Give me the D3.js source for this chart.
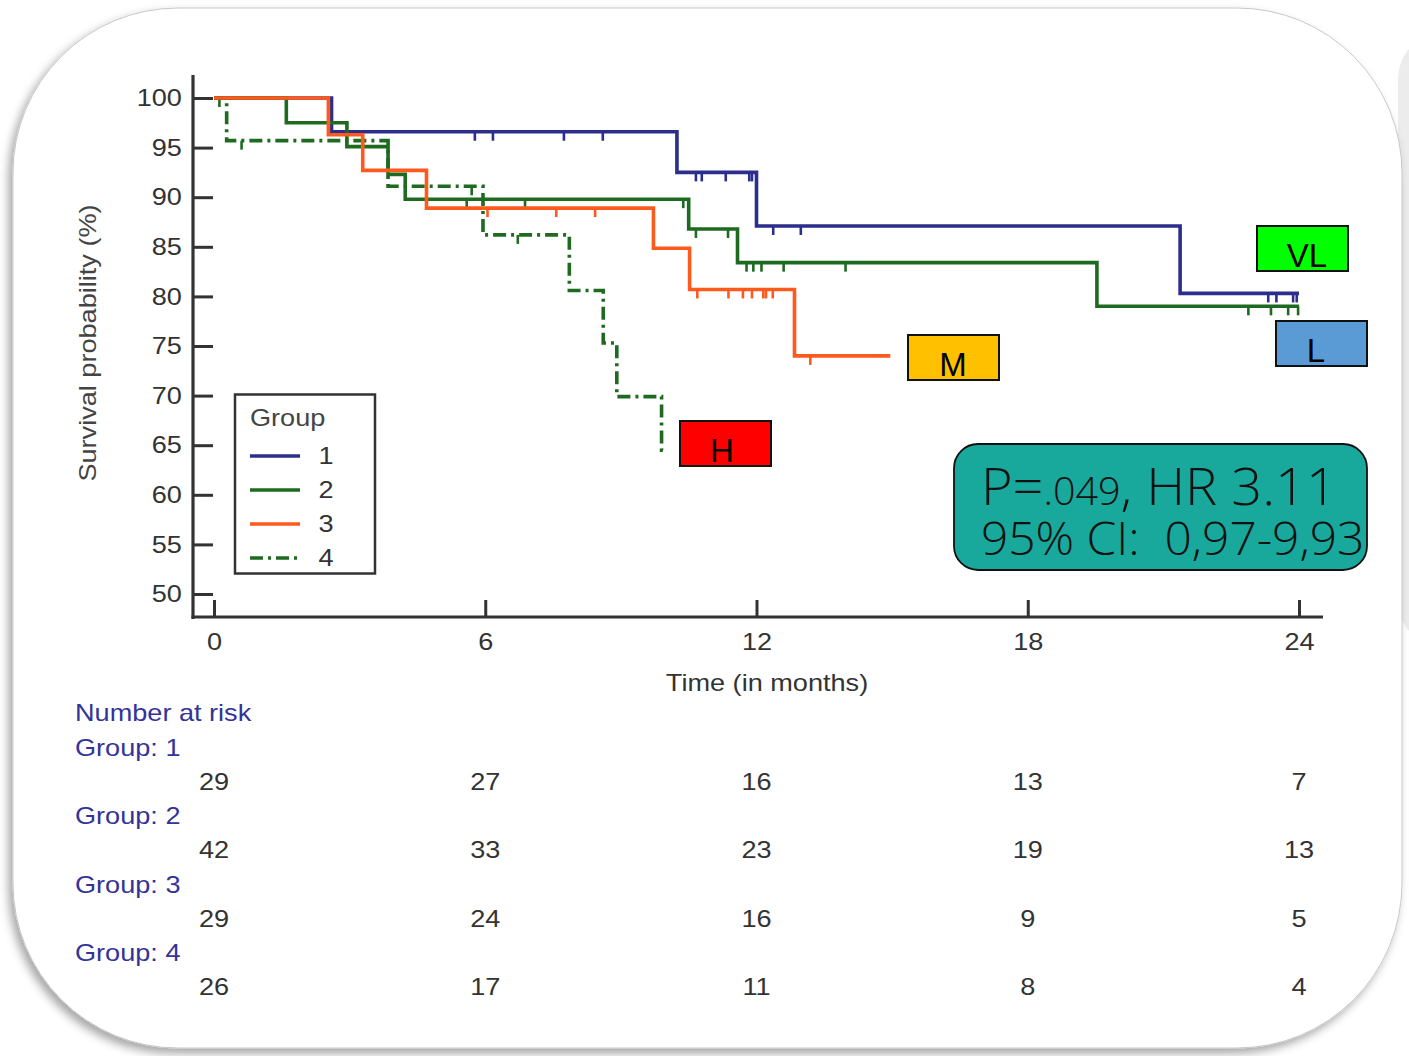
<!DOCTYPE html>
<html>
<head>
<meta charset="utf-8">
<script src="https://cdn.jsdelivr.net/npm/d3@7"></script>
<style>
  html, body { margin: 0; padding: 0; background: #ffffff; }
  svg { display: block; }
</style>
</head>
<body>
<svg id="chart" width="1409" height="1056"></svg>
<script>
// ---------------- DATA ----------------
const groups = ["1", "2", "3", "4"];
const riskLabels = ["VL", "L", "M", "H"];

// Step curves: event times (months) and survival (%) after each step
const g1Times = [0, 2.6, 10.24, 12.0, 21.37];
const g1Surv  = [100, 96.6, 92.5, 87.1, 80.3];
const g1End   = 24.0;
const g1Censor = [5.77, 6.17, 7.74, 8.6, 10.66, 10.79, 11.32, 11.84, 11.9, 12.37, 12.98, 23.32, 23.5, 23.87, 23.95];

const g2Times = [0, 1.6, 2.94, 3.85, 4.23, 10.5, 11.58, 19.53];
const g2Surv  = [100, 97.5, 95.1, 92.3, 89.8, 86.8, 83.4, 79.0];
const g2End   = 24.0;
const g2Censor = [5.59, 6.88, 10.38, 10.66, 11.37, 11.78, 11.93, 12.11, 12.6, 13.97, 22.88, 23.38, 23.76, 23.98];

const g3Times = [0, 2.53, 3.29, 4.7, 9.72, 10.52, 12.84];
const g3Surv  = [100, 96.3, 92.7, 88.9, 84.85, 80.7, 74.0];
const g3End   = 14.96;
const g3Censor = [6.05, 7.57, 8.43, 10.69, 11.38, 11.7, 11.9, 12.15, 12.21, 12.36, 13.19];

const g4Times = [0, 0.28, 3.85, 5.95, 7.86, 8.61, 8.91, 9.9];
const g4Surv  = [100, 95.7, 91.1, 86.2, 80.6, 75.3, 69.9, 64.5];
const g4End   = 10.0;
const g4Censor = [0.12, 0.61, 5.7, 6.72];

// Axis ticks
const yTicks = [50, 55, 60, 65, 70, 75, 80, 85, 90, 95, 100];
const xTicks = [0, 6, 12, 18, 24];

// Number at risk
const risk1 = [29, 27, 16, 13, 7];
const risk2 = [42, 33, 23, 19, 13];
const risk3 = [29, 24, 16, 9, 5];
const risk4 = [26, 17, 11, 8, 4];

// Statistic annotation
const statLine1a = "P=";
const statLine1b = ".049";
const statLine1c = ", HR 3.11";
const statLine2 = "95% CI:\u00a0 0,97-9,93";

// ---------------- DRAW ----------------
const svg = d3.select("#chart");

const defs = svg.append("defs");
const sh = defs.append("filter").attr("id", "shadow").attr("x", "-10%").attr("y", "-10%").attr("width", "120%").attr("height", "120%");
sh.append("feDropShadow").attr("dx", -4).attr("dy", 5).attr("stdDeviation", 5).attr("flood-color", "#000").attr("flood-opacity", 0.35);

// background fragment on the right
svg.append("rect").attr("x", 1398).attr("y", 40).attr("width", 60).attr("height", 600).attr("rx", 40)
  .attr("fill", "#ececec");

// card with rounded corners
svg.append("rect")
  .attr("x", 13).attr("y", 8).attr("width", 1389).attr("height", 1040)
  .attr("rx", 165).attr("ry", 165)
  .attr("fill", "#ffffff").attr("stroke", "#c8c8c8").attr("stroke-width", 1)
  .attr("filter", "url(#shadow)");

const x = d3.scaleLinear().domain([0, 24]).range([214, 1299]);
const y = d3.scaleLinear().domain([50, 100]).range([594, 98]);

const colors = d3.scaleOrdinal().domain(groups).range(["#2b2e8c", "#1e6a20", "#ff5a1e", "#1e6a20"]);
const font = "'Liberation Sans', Arial, sans-serif";
const axisColor = "#333333";
const SX = 1.13; // horizontal stretch of the reference's text

function stretched(parent, px, py, str, size, fill, anchor) {
  return parent.append("text")
    .attr("transform", `translate(${px},${py}) scale(${SX},1)`)
    .attr("text-anchor", anchor || "start")
    .attr("font-family", font).attr("font-size", size).attr("fill", fill)
    .text(str);
}

// axes
const yAxis = svg.append("g").attr("transform", "translate(193,0)")
  .call(d3.axisLeft(y).tickValues(yTicks).tickSize(-20).tickPadding(10));
const xAxis = svg.append("g").attr("transform", "translate(0,617)")
  .call(d3.axisBottom(x).tickValues(xTicks).tickSize(-17).tickPadding(16));
[yAxis, xAxis].forEach(a => {
  a.select(".domain").remove();
  a.selectAll(".tick line").attr("stroke", axisColor).attr("stroke-width", 3);
  a.selectAll(".tick text").attr("fill", "#333").attr("font-family", font).attr("font-size", 24)
    .attr("transform", `scale(${SX},1)`);
});
yAxis.selectAll(".tick text").attr("x", -10 / SX - 1);
svg.append("line").attr("x1", 193).attr("x2", 193).attr("y1", 75).attr("y2", 619)
  .attr("stroke", axisColor).attr("stroke-width", 3.2);
svg.append("line").attr("x1", 191.5).attr("x2", 1323).attr("y1", 617).attr("y2", 617)
  .attr("stroke", axisColor).attr("stroke-width", 3.2);

// axis titles
svg.append("text").attr("transform", `translate(96,343) rotate(-90) scale(${SX},1)`)
  .attr("text-anchor", "middle").attr("font-family", font).attr("font-size", 24).attr("fill", "#444")
  .text("Survival probability (%)");
stretched(svg, 767, 691, "Time (in months)", 24, "#333", "middle");

// curves
const curves = [
  {g: "1", t: g1Times, s: g1Surv, end: g1End, c: g1Censor},
  {g: "2", t: g2Times, s: g2Surv, end: g2End, c: g2Censor},
  {g: "3", t: g3Times, s: g3Surv, end: g3End, c: g3Censor},
  {g: "4", t: g4Times, s: g4Surv, end: g4End, c: g4Censor}
];
const line = d3.line().x(d => x(d[0])).y(d => y(d[1])).curve(d3.curveStepAfter);
function survAt(cv, t) {
  let v = cv.s[0];
  for (let i = 0; i < cv.t.length; i++) if (cv.t[i] <= t) v = cv.s[i];
  return v;
}
const drawOrder = [curves[3], curves[0], curves[1], curves[2]];
drawOrder.forEach(cv => {
  const pts = cv.t.map((t, i) => [t, cv.s[i]]);
  pts.push([cv.end, cv.s[cv.s.length - 1]]);
  const p = svg.append("path").attr("d", line(pts)).attr("fill", "none")
    .attr("stroke", colors(cv.g)).attr("stroke-width", 3.6).attr("stroke-linejoin", "miter");
  if (cv.g === "4") p.attr("stroke-dasharray", "13,5,3,5");
  svg.append("g").selectAll("line").data(cv.c).join("line")
    .attr("x1", d => x(d)).attr("x2", d => x(d))
    .attr("y1", d => y(survAt(cv, d))).attr("y2", d => y(survAt(cv, d)) + 9)
    .attr("stroke", colors(cv.g)).attr("stroke-width", 2.6);
});

// legend
const lg = svg.append("g");
lg.append("rect").attr("x", 235).attr("y", 394.5).attr("width", 140).attr("height", 179)
  .attr("fill", "#fff").attr("stroke", "#333").attr("stroke-width", 2.5);
stretched(lg, 250, 426, "Group", 24, "#444");
groups.forEach((g, i) => {
  const yy = 456 + i * 34;
  const l = lg.append("line").attr("x1", 250).attr("x2", 300).attr("y1", yy).attr("y2", yy)
    .attr("stroke", colors(g)).attr("stroke-width", 3.6);
  if (g === "4") l.attr("stroke-dasharray", "13,5,3,5");
  stretched(lg, 326, yy + 8, g, 24, "#333", "middle");
});

// group risk labels (boxes)
const boxFill = ["#00ff00", "#5b9bd5", "#ffc000", "#ff0000"];
const boxX = [1257, 1276, 908, 680];
const boxY = [226, 321, 335, 421];
const boxTextDx = [50, 40, 45, 42];
riskLabels.forEach((lab, i) => {
  svg.append("rect").attr("x", boxX[i]).attr("y", boxY[i]).attr("width", 91).attr("height", 45)
    .attr("fill", boxFill[i]).attr("stroke", "#111").attr("stroke-width", 2);
  svg.append("text").attr("x", boxX[i] + boxTextDx[i]).attr("y", boxY[i] + 41).attr("text-anchor", "middle")
    .attr("font-family", font).attr("font-size", 33).attr("fill", "#000").text(lab);
});

// statistics box
svg.append("rect").attr("x", 954).attr("y", 444).attr("width", 413).attr("height", 126).attr("rx", 24)
  .attr("fill", "#18a89c").attr("stroke", "#111").attr("stroke-width", 1.8);
const sf = "'Open Sans', 'Noto Sans', sans-serif";
const t1 = svg.append("text").attr("x", 981).attr("y", 505).attr("font-family", sf).attr("font-size", 52)
  .attr("fill", "#111").attr("font-weight", 300).attr("transform", "translate(981,0) scale(1.04,1) translate(-981,0)");
t1.append("tspan").text(statLine1a);
t1.append("tspan").attr("font-size", 38).text(statLine1b);
t1.append("tspan").text(statLine1c);
svg.append("text").attr("x", 981).attr("y", 555).attr("font-family", sf).attr("font-size", 46).attr("fill", "#111").attr("font-weight", 300)
  .attr("transform", "translate(981,0) scale(1.04,1) translate(-981,0)")
  .text(statLine2);

// number at risk table
const riskColor = "#333399";
stretched(svg, 75, 721, "Number at risk", 24, riskColor);
const riskRows = [risk1, risk2, risk3, risk4];
riskRows.forEach((row, i) => {
  const by = 756 + i * 68.4;
  stretched(svg, 75, by, "Group: " + groups[i], 24, riskColor);
  row.forEach((d, j) => stretched(svg, x(xTicks[j]), by + 34, d, 24, "#333", "middle"));
});
</script>
</body>
</html>
